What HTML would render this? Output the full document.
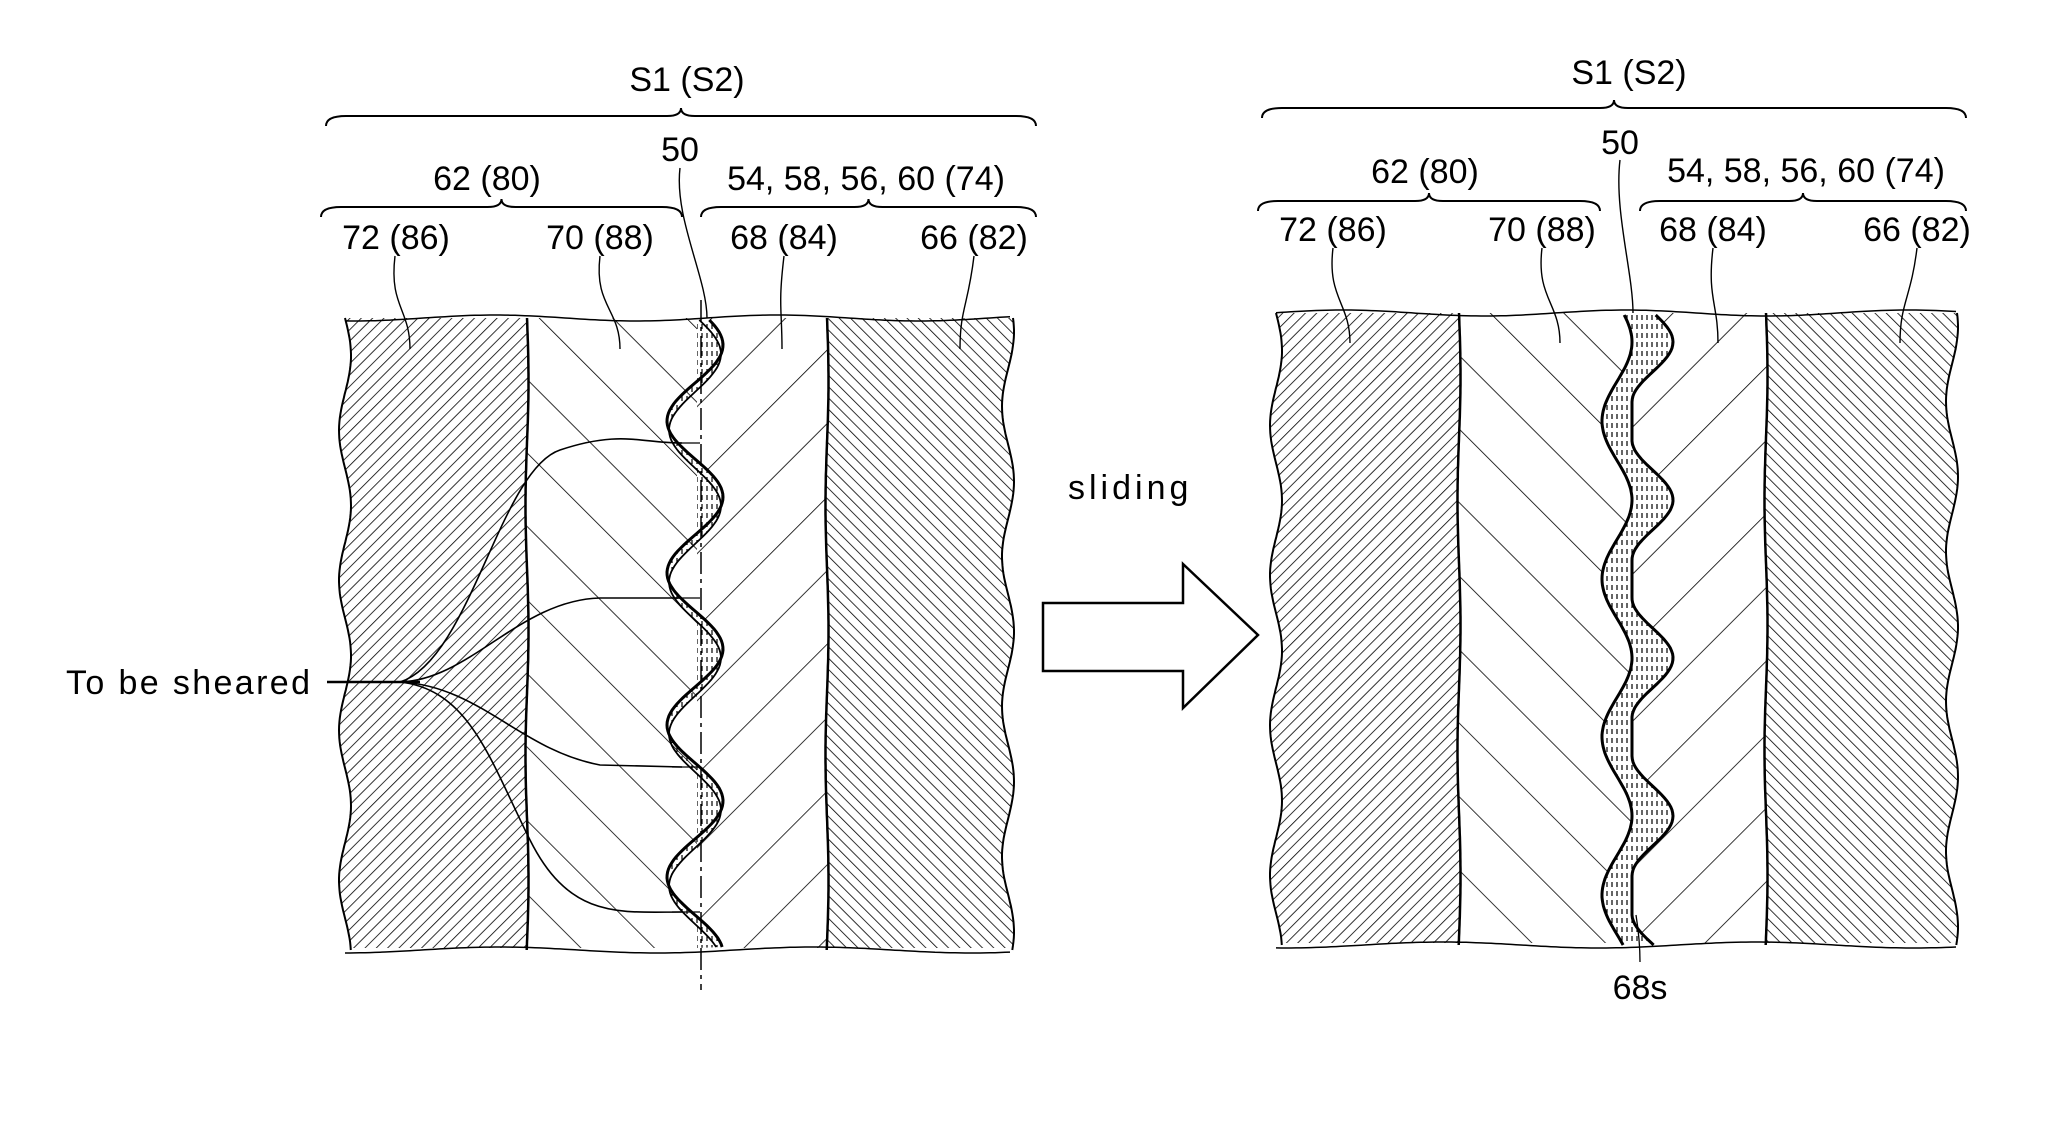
<!DOCTYPE html>
<html><head><meta charset="utf-8"><style>
html,body{margin:0;padding:0;background:#fff;width:2048px;height:1127px;overflow:hidden}
svg{display:block}
text{font-family:"Liberation Sans",sans-serif;fill:#000}
</style></head><body>
<svg id="s" width="2048" height="1127" viewBox="0 0 2048 1127" xmlns="http://www.w3.org/2000/svg">
<defs>
<pattern id="fineF" width="8" height="8" patternUnits="userSpaceOnUse" patternTransform="rotate(45)"><line x1="0" y1="0" x2="0" y2="8" stroke="#000" stroke-width="1.6"/></pattern>
<pattern id="fineB" width="8" height="8" patternUnits="userSpaceOnUse" patternTransform="rotate(-45)"><line x1="0" y1="0" x2="0" y2="8" stroke="#000" stroke-width="1.6"/></pattern>
<pattern id="wideF" width="52" height="52" patternUnits="userSpaceOnUse" patternTransform="rotate(45)"><line x1="0" y1="0" x2="0" y2="52" stroke="#000" stroke-width="1.6"/></pattern>
<pattern id="wideB" width="52" height="52" patternUnits="userSpaceOnUse" patternTransform="rotate(-45)"><line x1="0" y1="0" x2="0" y2="52" stroke="#000" stroke-width="1.6"/></pattern>
<pattern id="dots" width="5" height="9" patternUnits="userSpaceOnUse"><line x1="2" y1="0" x2="2" y2="5" stroke="#000" stroke-width="1.2"/></pattern>
</defs>
<g id="g" fill="none" stroke="#000"></g>
<g font-size="34">
<text x="687" y="91" text-anchor="middle">S1 (S2)</text>
<text x="487" y="190" text-anchor="middle">62 (80)</text>
<text x="866" y="190" text-anchor="middle">54, 58, 56, 60 (74)</text>
<text x="680" y="161" text-anchor="middle">50</text>
<text x="396" y="249" text-anchor="middle">72 (86)</text>
<text x="600" y="249" text-anchor="middle">70 (88)</text>
<text x="784" y="249" text-anchor="middle">68 (84)</text>
<text x="974" y="249" text-anchor="middle">66 (82)</text>
<text x="1629" y="84" text-anchor="middle">S1 (S2)</text>
<text x="1425" y="183" text-anchor="middle">62 (80)</text>
<text x="1806" y="182" text-anchor="middle">54, 58, 56, 60 (74)</text>
<text x="1620" y="154" text-anchor="middle">50</text>
<text x="1333" y="241" text-anchor="middle">72 (86)</text>
<text x="1542" y="241" text-anchor="middle">70 (88)</text>
<text x="1713" y="241" text-anchor="middle">68 (84)</text>
<text x="1917" y="241" text-anchor="middle">66 (82)</text>
<text x="1640" y="999" text-anchor="middle">68s</text>
<text x="66" y="694" textLength="244">To be sheared</text>
<text x="1068" y="499" letter-spacing="4">sliding</text>
</g>
<path d="M1043 603 H1183 V564 L1258 635 L1183 708 V671 H1043 Z" fill="#fff" stroke="#000" stroke-width="2.5"/>
</svg>
<script>
(function(){
var g=document.getElementById('g'),NS='http://www.w3.org/2000/svg';
function el(t,a){var e=document.createElementNS(NS,t);for(var k in a)e.setAttribute(k,a[k]);g.appendChild(e);return e;}
function vline(x0,y0,y1,amp,per,ph){var d='';for(var y=y0;y<=y1;y+=4){var x=x0+amp*Math.sin(2*Math.PI*(y-y0)/per+ph);d+=(d?'L':'M')+x.toFixed(1)+' '+y;}return d;}
function pts(fn,y0,y1){var p=[];for(var y=y0;y<=y1;y+=3)p.push([fn(y),y]);return p;}
function region(lf,rf,y0,y1,fill){
  var L=pts(lf,y0,y1),R=pts(rf,y0,y1);
  var d='M'+L.map(function(p){return p[0].toFixed(1)+' '+p[1];}).join(' L');
  d+=' L'+R.reverse().map(function(p){return p[0].toFixed(1)+' '+p[1];}).join(' L')+' Z';
  return el('path',{d:d,fill:fill,stroke:'none'});
}
function brace(x0,x1,y){var m=(x0+x1)/2;el('path',{d:'M'+x0+' '+(y+10)+' Q'+x0+' '+y+' '+(x0+20)+' '+y+' L'+(m-14)+' '+y+' Q'+m+' '+y+' '+m+' '+(y-8)+' Q'+m+' '+y+' '+(m+14)+' '+y+' L'+(x1-20)+' '+y+' Q'+x1+' '+y+' '+x1+' '+(y+10),'stroke-width':2});}
function panel(o){
  var T=o.top,B=o.bot;
  var lE=function(y){return o.x0+6*Math.sin(2*Math.PI*(y-T)/150);};
  var rE=function(y){return o.x1+6*Math.sin(2*Math.PI*(y-T)/150+1);};
  var c1=function(y){return o.d1+1.5*Math.sin(2*Math.PI*(y-T)/250);};
  var c3=function(y){return o.d3+1.5*Math.sin(2*Math.PI*(y-T)/250);};
  var ci=function(y){return o.ci;};
  region(lE,c1,T,B,'url(#fineF)');
  region(c1,ci,T,B,'url(#wideB)');
  region(ci,c3,T,B,'url(#wideF)');
  region(c3,rE,T,B,'url(#fineB)');
  el('path',{d:vline(o.x0,T,B,6,150,0),'stroke-width':2});
  el('path',{d:vline(o.x1,T,B,6,150,1),'stroke-width':2});
  el('path',{d:vline(o.d1,T,B,1.5,250,0),'stroke-width':2.5});
  el('path',{d:vline(o.d3,T,B,1.5,250,0),'stroke-width':2.5});
  var dt='',db='';for(var x=o.x0;x<=o.x1+6;x+=5){dt+=(dt?'L':'M')+x+' '+(T+3*Math.sin(x/45)).toFixed(1);db+=(db?'L':'M')+x+' '+(B+3*Math.sin(x/50+1)).toFixed(1);}
  el('path',{d:dt,'stroke-width':1.5});el('path',{d:db,'stroke-width':1.5});
}
panel({x0:345,x1:1008,d1:527,d3:827,ci:697,top:318,bot:950});
panel({x0:1276,x1:1952,d1:1459,d3:1766,ci:1632,top:313,bot:945});
(function(){
  var P=152,pk=345;
  var w1=function(y){return 695+28*Math.cos(2*Math.PI*(y-pk)/P);};
  var w2=function(y){return 695+26*Math.cos(2*Math.PI*(y-pk-9)/P);};
  var A=pts(w1,320,948),Bp=pts(w2,320,948);
  var d='M'+A.map(function(p){return p[0].toFixed(1)+' '+p[1]}).join(' L')+' L'+Bp.slice().reverse().map(function(p){return p[0].toFixed(1)+' '+p[1]}).join(' L')+'Z';
  el('path',{d:d,fill:'url(#dots)',stroke:'none'});
  var d2='M697 320';A.forEach(function(p){d2+=' L'+Math.max(697,p[0]).toFixed(1)+' '+p[1];});d2+=' L697 948 Z';
  el('path',{d:d2,fill:'#fff',stroke:'none'});
  el('path',{d:d2,fill:'url(#dots)',stroke:'none'});
  el('path',{d:'M'+A.map(function(p){return p[0].toFixed(1)+' '+p[1]}).join(' L'),'stroke-width':3});
  el('path',{d:'M'+Bp.map(function(p){return p[0].toFixed(1)+' '+p[1]}).join(' L'),'stroke-width':1.8});
  el('line',{x1:701,y1:300,x2:701,y2:990,'stroke-width':1.5,'stroke-dasharray':'22 5 4 5'});
  var sx=400,sy=682;
  el('line',{x1:327,y1:sy,x2:sx+20,y2:sy,'stroke-width':2.5});
  el('path',{d:'M'+sx+' '+sy+' C470 660 500 470 560 450 S640 443 682 443','stroke-width':1.6});
  el('path',{d:'M'+sx+' '+sy+' C470 680 520 600 600 598 L682 598','stroke-width':1.6});
  el('path',{d:'M'+sx+' '+sy+' C480 686 520 750 600 765 L682 767','stroke-width':1.6});
  el('path',{d:'M'+sx+' '+sy+' C470 690 490 760 530 840 S620 912 682 912','stroke-width':1.6});
  [[682,443],[682,598],[682,767],[682,912]].forEach(function(t){el('line',{x1:t[0]-10,y1:t[1],x2:t[0]+18,y2:t[1],'stroke-width':1.3});});
})();
(function(){
  var P=158,pk=342,cx=1632;
  var lw=function(y){return 1617+15*Math.cos(2*Math.PI*(y-pk)/P);};
  var rw=function(y){var d=((y-pk)%P+P)%P;if(d>P/2)d-=P;if(Math.abs(d)<60){var c=Math.cos(Math.PI*d/120);return cx+41*c*c;}return cx;};
  var A=pts(lw,315,945),Bp=pts(rw,315,945);
  var d='M'+A.map(function(p){return p[0].toFixed(1)+' '+p[1]}).join(' L')+' L'+Bp.slice().reverse().map(function(p){return p[0].toFixed(1)+' '+p[1]}).join(' L')+'Z';
  el('path',{d:d,fill:'#fff',stroke:'none'});
  el('path',{d:d,fill:'url(#dots)',stroke:'none'});
  el('path',{d:'M'+A.map(function(p){return p[0].toFixed(1)+' '+p[1]}).join(' L'),'stroke-width':3});
  el('path',{d:'M'+Bp.map(function(p){return p[0].toFixed(1)+' '+p[1]}).join(' L'),'stroke-width':3});
  el('path',{d:'M1636 915 Q1640 940 1640 962','stroke-width':1.3});
})();
[[395,256,410,349],[600,256,620,349],[784,256,782,349],[974,256,960,349],[680,168,707,318],
 [1333,248,1350,343],[1542,248,1560,343],[1713,248,1718,343],[1917,248,1900,343],[1620,160,1633,313]].forEach(function(l){
  el('path',{d:'M'+l[0]+' '+l[1]+' C'+(l[0]-6)+' '+(l[1]+50)+' '+(l[2])+' '+(l[3]-40)+' '+l[2]+' '+l[3],'stroke-width':1.4});
});
brace(326,1036,116);brace(321,682,207);brace(701,1036,207);
brace(1262,1966,108);brace(1258,1600,201);brace(1640,1966,201);
})();
</script>
</body></html>
